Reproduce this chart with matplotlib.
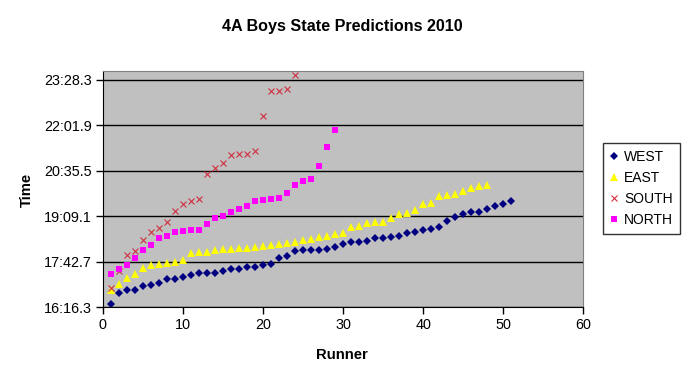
import numpy as np
import matplotlib
matplotlib.use("Agg")
import matplotlib.pyplot as plt
from matplotlib.ticker import FuncFormatter

plt.rcParams['font.family'] = ['Liberation Sans', 'DejaVu Sans']

# finish times in seconds, one list per region (runner index = position in list)
west = [982.0, 1002.8, 1009.1, 1009.1, 1016.7, 1018.0, 1021.8, 1029.4, 1029.4, 1034.3,
        1038.1, 1040.7, 1041.9, 1041.9, 1045.1, 1048.9, 1048.9, 1053.2, 1053.2, 1055.9,
        1057.8, 1069.1, 1072.9, 1083.0, 1084.9, 1084.9, 1084.9, 1087.3, 1090.0, 1096.2,
        1100.6, 1100.6, 1102.5, 1107.0, 1107.0, 1108.9, 1111.4, 1117.1, 1118.4, 1122.8,
        1124.7, 1127.9, 1139.2, 1148.0, 1152.5, 1156.3, 1156.3, 1162.0, 1167.7, 1172.0,
        1177.7]
east = [1009.1, 1021.4, 1032.8, 1040.0, 1051.7, 1057.0, 1058.9, 1061.2, 1062.5, 1066.5,
        1080.1, 1082.0, 1082.0, 1084.3, 1086.2, 1087.3, 1088.1, 1089.2, 1090.9, 1092.4,
        1093.8, 1096.2, 1097.6, 1099.5, 1104.4, 1106.7, 1109.5, 1111.4, 1115.2, 1117.6,
        1129.0, 1130.9, 1135.5, 1137.3, 1138.5, 1144.9, 1152.5, 1154.4, 1160.7, 1173.3,
        1175.2, 1188.5, 1189.6, 1191.5, 1196.7, 1202.9, 1206.7, 1209.3]
south = [1012.3, 1045.1, 1075.4, 1083.5, 1103.4, 1118.6, 1126.0, 1137.9, 1158.4, 1171.6,
         1179.0, 1181.1, 1228.5, 1239.9, 1249.3, 1266.2, 1268.1, 1268.1, 1272.4, 1340.1,
         1386.7, 1386.7, 1391.2, 1417.8]
north = [1040.0, 1049.3, 1056.8, 1070.3, 1085.4, 1094.7, 1108.2, 1112.0, 1119.4, 1121.4,
         1123.3, 1123.3, 1135.1, 1146.1, 1150.2, 1157.4, 1162.9, 1168.8, 1178.3, 1180.2,
         1181.9, 1183.4, 1193.4, 1208.4, 1216.2, 1220.0, 1244.6, 1280.4, 1312.8]

# axis in excel day-fractions -> seconds
ymin = 0.0113 * 86400
ymax = 0.0165 * 86400
ystep = 0.001 * 86400


def fmt_time(s, pos):
    m = int(s // 60)
    return "%d:%04.1f" % (m, s - 60 * m)


fig = plt.figure(figsize=(6.87, 3.86), dpi=100)
ax = fig.add_axes([102.7 / 687, 1 - 307.3 / 386, (583.3 - 102.7) / 687, (307.3 - 70.6) / 386])
ax.set_facecolor('#C0C0C0')

ax.plot(range(1, len(west) + 1), west, 'D', color='#000080', ms=3.7, mew=0, label='WEST')
ax.plot(range(1, len(east) + 1), east, '^', color='#FFFF00', ms=6, mew=0, label='EAST')
ax.plot(range(1, len(south) + 1), south, 'x', color='#D03040', ms=4, mew=0.8, label='SOUTH')
ax.plot(range(1, len(north) + 1), north, 's', color='#FF00FF', ms=5, mew=0, label='NORTH')

ax.set_xlim(0, 60)
ax.set_ylim(ymin, ymax)
ax.set_xticks(np.arange(0, 61, 10))
ax.set_yticks(np.arange(ymin, ymax, ystep))
ax.yaxis.set_major_formatter(FuncFormatter(fmt_time))
ax.yaxis.grid(True, color='black', lw=1)
ax.set_axisbelow(True)
ax.tick_params(direction='out', length=5, width=1, labelsize=10.4, colors='black', pad=3)

for side in ['top', 'right']:
    ax.spines[side].set_color('#808080')
for side in ['left', 'bottom']:
    ax.spines[side].set_color('black')

fig.text(342 / 687, 1 - 27 / 386, '4A Boys State Predictions 2010', ha='center', va='center',
         fontsize=11.6, fontweight='bold')
fig.text(27 / 687, 1 - 190 / 386, 'Time', ha='center', va='center', rotation=90,
         fontsize=10.7, fontweight='bold')
fig.text(342 / 687, 1 - 355 / 386, 'Runner', ha='center', va='center',
         fontsize=10.7, fontweight='bold')

leg = fig.legend(loc='upper left', bbox_to_anchor=(603 / 687, 1 - 143 / 386), borderaxespad=0,
                 fontsize=10, frameon=True, fancybox=False, edgecolor='black',
                 handlelength=0.6, handletextpad=0.4, labelspacing=0.5, borderpad=0.5,
                 markerscale=1.0)
leg.get_frame().set_linewidth(1)

fig.savefig('out.png', dpi=100, facecolor='white')
